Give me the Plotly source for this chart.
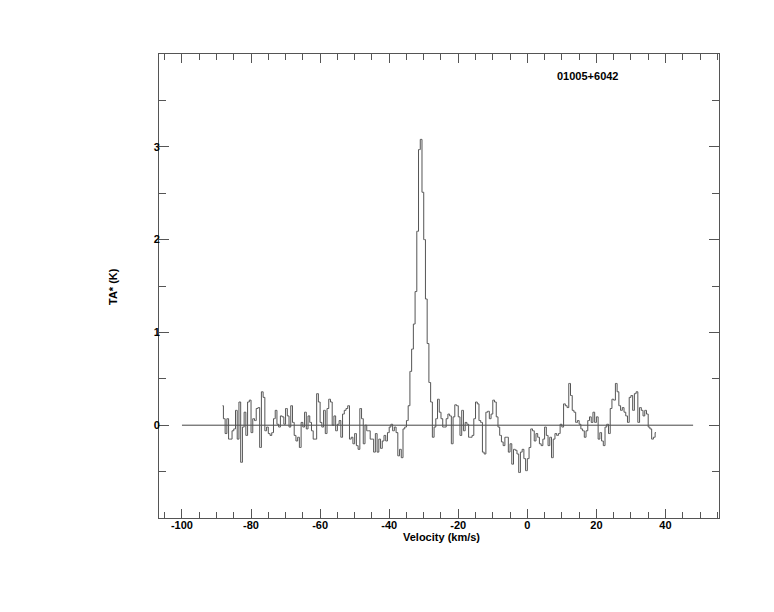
import plotly.graph_objects as go

# Spectrum: channel centres start at -88.25 km/s, 0.5 km/s channels
v_start = -88.25
v_step = 0.5
ta_values = [
    0.21, 0.07, -0.09, 0.07, -0.15, -0.15, -0.06, -0.04, 0.16, -0.15,
    0.25, -0.40, -0.02, 0.14, -0.11, 0.25, 0.27, -0.08, 0.07, 0.05,
    0.18, 0.19, -0.24, 0.36, 0.30, -0.06, -0.02, -0.09, -0.11, -0.08,
    0.07, 0.16, 0.01, -0.02, 0.10, 0.09, 0.01, 0.18, 0.10, -0.02,
    0.21, 0.03, -0.11, -0.17, -0.13, -0.24, 0.03, -0.02, 0.14, -0.04,
    0.10, 0.03, -0.06, -0.15, -0.15, 0.34, 0.25, 0.03, -0.02, 0.16,
    -0.09, 0.18, 0.28, 0.25, 0.00, 0.10, -0.06, 0.01, 0.05, -0.13,
    0.12, 0.16, 0.18, 0.21, -0.15, -0.13, -0.20, -0.09, -0.22, -0.26,
    0.18, 0.07, -0.20, 0.00, -0.06, -0.06, -0.15, -0.15, -0.29, -0.09,
    -0.29, -0.15, -0.25, -0.17, -0.11, -0.17, -0.08, -0.02, 0.01, -0.06,
    -0.02, -0.08, -0.33, -0.26, -0.35, -0.04, -0.02, 0.05, 0.21, 0.58,
    0.82, 1.09, 1.44, 2.09, 2.97, 3.08, 2.51, 2.00, 1.36, 0.88,
    0.46, 0.25, -0.13, -0.02, 0.07, 0.28, 0.14, 0.07, -0.02, -0.02,
    0.07, 0.12, 0.10, -0.20, 0.09, 0.22, 0.21, 0.09, -0.11, 0.16,
    -0.06, 0.03, 0.01, -0.13, -0.13, -0.11, 0.07, 0.25, 0.23, 0.05,
    0.03, -0.29, -0.31, 0.14, 0.15, 0.07, 0.12, 0.27, 0.25, 0.09,
    -0.02, -0.11, -0.18, -0.22, -0.13, -0.13, -0.29, -0.20, -0.42, -0.26,
    -0.27, -0.31, -0.51, -0.29, -0.26, -0.36, -0.49, -0.36, -0.24, -0.04,
    -0.06, -0.17, -0.09, -0.13, -0.20, -0.22, -0.15, -0.02, -0.11, -0.22,
    -0.13, -0.35, -0.15, -0.09, -0.11, -0.09, 0.01, -0.02, 0.23, 0.21,
    0.19, 0.45, 0.32, 0.16, 0.14, 0.03, 0.05, 0.01, -0.04, -0.06,
    -0.13, -0.06, 0.05, 0.09, 0.03, 0.14, 0.03, 0.09, -0.15, -0.08,
    -0.17, -0.22, -0.02, 0.01, -0.09, 0.18, 0.28, 0.27, 0.45, 0.36,
    0.21, 0.16, 0.19, 0.14, 0.10, 0.03, 0.30, 0.32, 0.16, 0.34,
    0.36, 0.03, 0.19, 0.16, 0.10, 0.16, 0.12, -0.02, -0.04, -0.15,
    -0.13, -0.08,
]
velocities = [v_start + v_step * i for i in range(len(ta_values))]

baseline_x = [-100, 48]
baseline_y = [0, 0]

x_tick_vals = [-100, -80, -60, -40, -20, 0, 20, 40]
x_tick_text = ["-100", "-80", "-60", "-40", "-20", "0", "20", "40"]
y_tick_vals = [0, 1, 2, 3]
y_tick_text = ["0", "1", "2", "3"]

source_name = "01005+6042"
x_title = "Velocity (km/s)"
y_title = "TA* (K)"

FONT = "Liberation Sans, Arial, Helvetica, sans-serif"
AXIS_COLOR = "#555555"

fig = go.Figure()
fig.add_trace(go.Scatter(
    x=baseline_x, y=baseline_y, mode="lines",
    line=dict(color="#444444", width=1), showlegend=False, hoverinfo="skip",
))
fig.add_trace(go.Scatter(
    x=velocities, y=ta_values, mode="lines", line_shape="hvh",
    line=dict(color="#555555", width=1), showlegend=False,
))

# page body has an 8px margin, so compensate so the frame sits at 159..719 x 54..518
fig.update_layout(
    width=774, height=612,
    margin=dict(l=151, r=63, t=46, b=102),
    paper_bgcolor="white", plot_bgcolor="white",
    font=dict(family=FONT, size=11, color="black"),
    showlegend=False,
)
fig.update_xaxes(
    range=[-106.65, 55.5],
    tickvals=x_tick_vals, ticktext=x_tick_text,
    ticks="inside", ticklen=9, tickwidth=1, tickcolor=AXIS_COLOR,
    minor=dict(dtick=5, tick0=0, ticks="inside", ticklen=6, tickcolor=AXIS_COLOR, tickwidth=1),
    showline=True, linecolor=AXIS_COLOR, linewidth=1, mirror="allticks",
    showgrid=False, zeroline=False, ticklabelstandoff=-3,
    tickfont=dict(family=FONT, size=11, color="black", weight="bold"),
)
fig.update_yaxes(
    range=[-1, 4],
    tickvals=y_tick_vals, ticktext=y_tick_text,
    ticks="inside", ticklen=10, tickwidth=1, tickcolor=AXIS_COLOR,
    minor=dict(dtick=0.5, tick0=0, ticks="inside", ticklen=7, tickcolor=AXIS_COLOR, tickwidth=1),
    showline=True, linecolor=AXIS_COLOR, linewidth=1, mirror="allticks",
    showgrid=False, zeroline=False, ticklabelstandoff=-4,
    tickfont=dict(family=FONT, size=11, color="black", weight="bold"),
)

fig.add_annotation(
    text=source_name, xref="paper", yref="paper", x=0.766, y=0.953,
    xanchor="center", yanchor="middle",
    showarrow=False, font=dict(family=FONT, size=11, color="black", weight="bold"),
)
fig.add_annotation(
    text=x_title, xref="paper", yref="paper", x=0.504, y=-0.041,
    xanchor="center", yanchor="middle",
    showarrow=False, font=dict(family=FONT, size=11, color="black", weight="bold"),
)
fig.add_annotation(
    text=y_title, xref="paper", yref="paper", x=-0.082, y=0.498, textangle=-90,
    xanchor="center", yanchor="middle",
    showarrow=False, font=dict(family=FONT, size=11, color="black", weight="bold"),
)

fig.write_html("out.html")
